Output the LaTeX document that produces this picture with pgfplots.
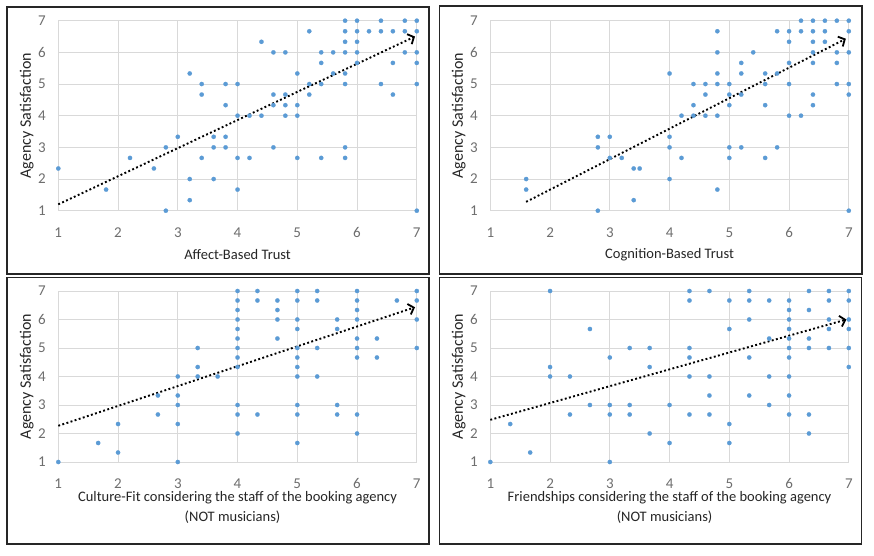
\documentclass[border=0pt]{standalone}
\usepackage{fontspec}
\setmainfont{Carlito}
\usepackage{pgfplots}
\pgfplotsset{compat=1.18}
\usetikzlibrary{arrows.meta}
\definecolor{dot}{HTML}{5B9BD5}
\definecolor{gridc}{HTML}{D9D9D9}
\definecolor{tickc}{HTML}{6E6E6E}
\definecolor{labc}{HTML}{262626}
\pgfplotsset{
 panel/.style={
  scale only axis, width=358.5pt,
  xmin=1,xmax=7,ymin=1,ymax=7,
  xtick={1,...,7}, ytick={1,...,7},
  grid=major, major grid style={draw=gridc, line width=0.9pt},
  axis line style={draw=none}, tick style={draw=none},
  /pgf/number format/assume math mode=true,
  tick label style={font=\fontsize{15}{17}\selectfont, text=tickc},
  xticklabel style={anchor=center, yshift=-21.8pt},
  yticklabel style={anchor=center, xshift=-16.3pt},
  label style={font=\fontsize{14.5}{20}\selectfont, text=labc},
  ylabel={Agency Satisfaction},
  ylabel style={font=\fontsize{16}{18}\selectfont, at={(axis description cs:-0.0881,0.5)}, anchor=center},
  clip=false,
 },
 pts/.style={only marks, color=dot, mark=*, mark size=2.15pt, mark options={solid, draw=dot, fill=dot, line width=0.2pt}},
 trend/.style={no marks, black, line width=1.9pt, dash pattern=on 1.9pt off 2.4pt,
   -{Straight Barb[length=5pt,width=11pt,line width=1.8pt]}},
}
\begin{document}
\begin{tikzpicture}
\path[use as bounding box, fill=white] (0pt,0pt) rectangle (874pt,555pt);

% Panel 1
\begin{axis}[panel, at={(58.3pt,344.3pt)}, anchor=south west, height=190pt,
  xlabel={Affect-Based Trust},
  xlabel style={at={(axis description cs:0.5,-0.2295)}, anchor=center}]
\addplot[pts] coordinates {
(1,2.333) (1.8,1.667) (2.2,2.667) (2.6,2.333) (2.8,3) (2.8,1) (3,3.333) (3.2,5.333) (3.2,2) (3.2,1.333) (3.4,5) (3.4,4.667) (3.4,2.667) (3.6,3.333) (3.6,3) (3.6,2)
(3.8,5) (3.8,4.333) (3.8,3.333) (3.8,3)
(4,5) (4,4) (4,2.667) (4,1.667)
(4.2,4) (4.2,2.667)
(4.4,6.333) (4.4,4)
(4.6,6) (4.6,4.667) (4.6,4.333) (4.6,3)
(4.8,6) (4.8,4.667) (4.8,4.333) (4.8,4)
(5,5.333) (5,4.333) (5,4) (5,2.667)
(5.2,6.667) (5.2,5) (5.2,4.667)
(5.4,6) (5.4,5.667) (5.4,5) (5.4,2.667)
(5.6,6) (5.6,5.333)
(5.8,7) (5.8,6.667) (5.8,6.333) (5.8,6) (5.8,5.333) (5.8,5) (5.8,3) (5.8,2.667)
(6,7) (6,6.667) (6,6.333) (6,6) (6,5.667)
(6.2,6.667)
(6.4,7) (6.4,6.667) (6.4,5)
(6.6,6.667) (6.6,5.667) (6.6,4.667)
(6.8,7) (6.8,6.667) (6.8,6)
(7,7) (7,6.667) (7,6) (7,5.667) (7,5) (7,1)
};
\addplot[trend] coordinates {(1,1.2) (6.97,6.5)};
\end{axis}

% Panel 2
\begin{axis}[panel, at={(490.3pt,344.3pt)}, anchor=south west, height=190pt,
  xlabel={Cognition-Based Trust},
  xlabel style={at={(axis description cs:0.5,-0.2315)}, anchor=center}]
\addplot[pts] coordinates {
(1.6,2) (1.6,1.667) (2.8,3.333) (2.8,3) (2.8,1) (3,3.333) (3,2.667) (3.2,2.667) (3.4,2.333) (3.4,1.333) (3.5,2.333)
(4,5.333) (4,3.333) (4,3) (4,2)
(4.2,4) (4.2,2.667)
(4.4,5) (4.4,4.333) (4.4,4)
(4.6,5) (4.6,4.667) (4.6,4)
(4.8,6.667) (4.8,6) (4.8,5.333) (4.8,5) (4.8,4) (4.8,1.667)
(5,5) (5,4.667) (5,4.333) (5,3) (5,2.667)
(5.2,5.667) (5.2,5.333) (5.2,4.667) (5.2,3)
(5.4,6)
(5.6,5.333) (5.6,5) (5.6,4.333) (5.6,2.667)
(5.8,6.667) (5.8,5.333) (5.8,3)
(6,6.667) (6,6.333) (6,5.667) (6,5) (6,4)
(6.2,7) (6.2,6.667) (6.2,4)
(6.4,7) (6.4,6.667) (6.4,6.333) (6.4,6) (6.4,5.667) (6.4,4.667) (6.4,4.333)
(6.6,7) (6.6,6.667) (6.6,6.333)
(6.8,7) (6.8,6) (6.8,5.667) (6.8,5)
(7,7) (7,6.667) (7,6) (7,5) (7,4.667) (7,1)
};
\addplot[trend] coordinates {(1.6,1.28) (6.95,6.43)};
\end{axis}

% Panel 3
\begin{axis}[panel, at={(58.3pt,93pt)}, anchor=south west, height=171pt,
  xlabel={Culture-Fit considering the staff of the booking agency\\(NOT musicians)\hspace*{10pt}},
  xlabel style={align=center, at={(axis description cs:0.5,-0.267)}, anchor=center}]
\addplot[pts] coordinates {
(1,1) (1.667,1.667) (2,2.333) (2,1.333) (2.667,3.333) (2.667,2.667) (3,4) (3,3.333) (3,3) (3,2.333) (3,1) (3.333,5) (3.333,4.333) (3.333,4) (3.667,4)
(4,7) (4,6.667) (4,6.333) (4,6) (4,5.667) (4,5.333) (4,5) (4,4.667) (4,4.333) (4,3) (4,2.667) (4,2)
(4.333,7) (4.333,6.667) (4.333,2.667)
(4.667,6.667) (4.667,6.333) (4.667,6) (4.667,5.333)
(5,7) (5,6.667) (5,6) (5,5.667) (5,5) (5,4.667) (5,4.333) (5,4) (5,3) (5,2.667) (5,1.667)
(5.333,7) (5.333,6.667) (5.333,5) (5.333,4)
(5.667,6) (5.667,5.667) (5.667,3) (5.667,2.667)
(6,7) (6,6.667) (6,6.333) (6,6) (6,5.333) (6,5) (6,4.667) (6,2.667) (6,2)
(6.333,5.333) (6.333,4.667)
(6.667,6.667)
(7,7) (7,6.667) (7,6) (7,5)
};
\addplot[trend] coordinates {(1,2.27) (6.97,6.43)};
\end{axis}

% Panel 4
\begin{axis}[panel, at={(490.3pt,93pt)}, anchor=south west, height=171pt,
  xlabel={Friendships considering the staff of the booking agency\\(NOT musicians)\hspace*{10pt}},
  xlabel style={align=center, at={(axis description cs:0.5,-0.267)}, anchor=center}]
\addplot[pts] coordinates {
(1,1) (1.333,2.333) (1.667,1.333) (2,7) (2,4.333) (2,4) (2.333,4) (2.333,2.667) (2.667,5.667) (2.667,3) (3,4.667) (3,3) (3,2.667) (3,1) (3.333,5) (3.333,3) (3.333,2.667) (3.667,5) (3.667,4.333) (3.667,2)
(4,3) (4,1.667)
(4.333,7) (4.333,6.667) (4.333,5) (4.333,4.667) (4.333,4) (4.333,2.667)
(4.667,7) (4.667,4) (4.667,3.333) (4.667,2.667)
(5,6.667) (5,5.667) (5,2.333) (5,1.667)
(5.333,7) (5.333,6.667) (5.333,6) (5.333,4.667) (5.333,3.333)
(5.667,6.667) (5.667,5.333) (5.667,4) (5.667,3)
(6,6.667) (6,6.333) (6,6) (6,5.667) (6,5.333) (6,5) (6,4.667) (6,4) (6,3.333) (6,2.667)
(6.333,7) (6.333,6.333) (6.333,5.333) (6.333,5) (6.333,2.667) (6.333,2)
(6.667,7) (6.667,6.667) (6.667,6) (6.667,5.667) (6.667,5)
(7,7) (7,6.667) (7,6) (7,5.667) (7,5) (7,4.333)
};
\addplot[trend] coordinates {(1,2.48) (6.96,6.0)};
\end{axis}

% panel frames
\draw[black!85, line width=1.4pt] (7pt,281pt) rectangle (429pt,548pt);
\draw[black!85, line width=1.4pt] (439.5pt,281pt) rectangle (862pt,549pt);
\draw[black!85, line width=1.4pt] (7pt,11pt) rectangle (429pt,277.3pt);
\draw[black!85, line width=1.4pt] (439.5pt,11pt) rectangle (861.5pt,277.3pt);
\end{tikzpicture}
\end{document}
